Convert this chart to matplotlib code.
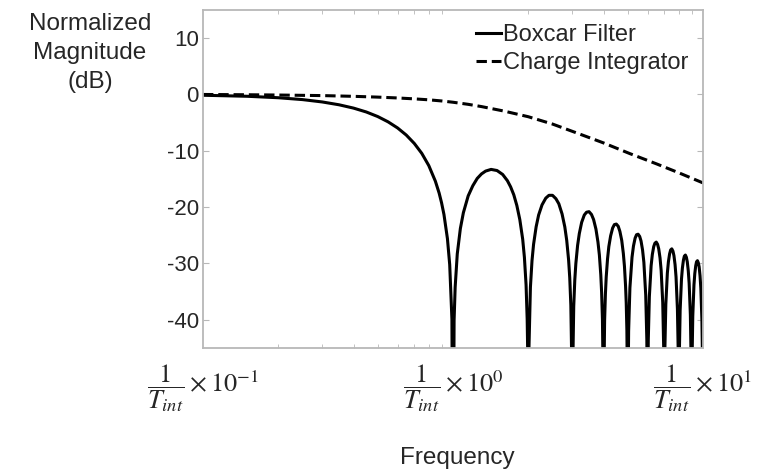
import matplotlib
matplotlib.use("Agg")
from matplotlib import pyplot as plt

plt.rcParams['font.family'] = ['Liberation Sans', 'DejaVu Sans']
plt.rcParams['mathtext.fontset'] = 'stix'

# frequency in units of 1/T_int, magnitude in dB
# one row per lobe, the last point of each row is the null below the axis
boxcar_freq = [
    0.1, 0.15, 0.2, 0.25, 0.3, 0.35, 0.4, 0.45, 0.5, 0.55, 0.6, 0.65, 0.7, 0.75,
    0.8, 0.85, 0.88, 0.9, 0.92, 0.95, 0.97, 0.99, 1.0,
    1.01, 1.02, 1.04, 1.07, 1.1, 1.15, 1.2, 1.25, 1.3, 1.35, 1.42, 1.5, 1.58,
    1.65, 1.7, 1.75, 1.8, 1.85, 1.9, 1.93, 1.96, 1.98, 1.99, 2.0,
    2.01, 2.04, 2.07, 2.1, 2.15, 2.2, 2.27, 2.35, 2.42, 2.5, 2.58, 2.65, 2.73, 2.8, 2.85, 2.9, 2.93, 2.96, 2.99, 3.0,
    3.01, 3.04, 3.07, 3.1, 3.15, 3.2, 3.27, 3.35, 3.42, 3.5, 3.58, 3.65, 3.73, 3.8, 3.85, 3.9, 3.93, 3.96, 3.99, 4.0,
    4.01, 4.04, 4.07, 4.1, 4.15, 4.2, 4.27, 4.35, 4.42, 4.5, 4.58, 4.65, 4.73, 4.8, 4.85, 4.9, 4.93, 4.96, 4.99, 5.0,
    5.01, 5.04, 5.1, 5.2, 5.27, 5.35, 5.42, 5.5, 5.58, 5.65, 5.73, 5.8, 5.9, 5.96, 5.99, 6.0,
    6.01, 6.04, 6.1, 6.2, 6.27, 6.35, 6.42, 6.5, 6.58, 6.65, 6.73, 6.8, 6.9, 6.96, 6.99, 7.0,
    7.01, 7.04, 7.1, 7.2, 7.27, 7.35, 7.42, 7.5, 7.58, 7.65, 7.73, 7.8, 7.9, 7.96, 7.99, 8.0,
    8.01, 8.04, 8.1, 8.2, 8.27, 8.35, 8.42, 8.5, 8.58, 8.65, 8.73, 8.8, 8.9, 8.96, 8.99, 9.0,
    9.01, 9.04, 9.1, 9.2, 9.27, 9.35, 9.42, 9.5, 9.58, 9.65, 9.73, 9.8, 9.9, 9.96, 9.99, 10.0,
]
boxcar_db = [
    -0.14, -0.32, -0.58, -0.91, -1.33, -1.83, -2.42, -3.11, -3.92, -4.86, -5.94, -7.2, -8.69, -10.45,
    -12.62, -15.39, -17.5, -19.23, -21.3, -25.6, -30.2, -39.9, -80,
    -40.1, -34.2, -28.3, -23.8, -21.0, -18.0, -16.2, -14.9, -14.1, -13.6, -13.3, -13.5, -14.2,
    -15.3, -16.4, -17.8, -19.7, -22.2, -25.7, -28.9, -33.8, -39.9, -46.0, -80,
    -46.1, -34.2, -29.5, -26.6, -23.5, -21.4, -19.6, -18.4, -17.9, -17.9, -18.5, -19.4, -21.2, -23.5, -25.9, -29.4, -32.5, -37.4, -49.5, -80,
    -49.6, -37.6, -32.9, -30.0, -26.8, -24.7, -22.7, -21.4, -20.9, -20.8, -21.3, -22.2, -23.9, -26.2, -28.5, -32.0, -35.1, -39.9, -52.0, -80,
    -52.1, -40.1, -35.4, -32.4, -29.2, -27.0, -25.1, -23.7, -23.1, -23.0, -23.4, -24.3, -25.9, -28.2, -30.5, -34.0, -37.0, -41.9, -54.0, -80,
    -54.0, -42.0, -34.3, -28.9, -26.9, -25.5, -24.9, -24.8, -25.2, -26.0, -27.6, -29.8, -35.6, -43.5, -55.6, -80,
    -55.6, -43.6, -35.9, -30.4, -28.4, -27.0, -26.4, -26.2, -26.6, -27.4, -29.0, -31.2, -36.9, -44.8, -56.9, -80,
    -56.9, -44.9, -37.2, -31.7, -29.7, -28.3, -27.6, -27.4, -27.8, -28.6, -30.2, -32.4, -38.1, -46.0, -58.1, -80,
    -58.1, -46.1, -38.3, -32.8, -30.8, -29.4, -28.7, -28.5, -28.9, -29.7, -31.3, -33.5, -39.1, -47.0, -59.1, -80,
    -59.1, -47.1, -39.3, -33.8, -31.8, -30.4, -29.7, -29.5, -29.9, -30.6, -32.2, -34.4, -40.1, -48.0, -60.0, -80,
]

integrator_freq = [0.1, 0.15, 0.2, 0.3, 0.4, 0.5, 0.6, 0.7, 0.8, 0.9, 1.0, 1.15, 1.3, 1.6,
                   2.0, 2.5, 3.2, 4.0, 5.1, 6.5, 8.0, 10.0]
integrator_db = [0.0, -0.05, -0.1, -0.2, -0.33, -0.47, -0.62, -0.78, -0.95, -1.15, -1.38, -1.75, -2.15, -2.95,
                 -3.95, -5.25, -7.0, -8.6, -10.5, -12.3, -13.9, -15.7]

y_ticks = [10, 0, -10, -20, -30, -40]
x_ticks = [0.1, 1, 10]
x_tick_labels = [
    r'$\dfrac{\mathit{1}}{T_{int}}\times10^{-1}$',
    r'$\dfrac{\mathit{1}}{T_{int}}\times10^{0}$',
    r'$\dfrac{\mathit{1}}{T_{int}}\times10^{1}$',
]

text_color = '#262626'
frame_color = '#b8b8b8'


def main():
    fig = plt.figure(figsize=(7.62, 4.74), dpi=100)
    ax = fig.add_axes([0.2664, 0.2658, 0.6562, 0.7132])

    ax.plot(boxcar_freq, boxcar_db, color='black', lw=2.2, label="Boxcar Filter")
    ax.plot(integrator_freq, integrator_db, color='black', lw=2.2,
            dashes=(3.4, 1.6), label="Charge Integrator")

    ax.set_xscale('log')
    ax.set_xlim(0.1, 10)
    ax.set_ylim(-45, 15)

    ax.set_yticks(y_ticks)
    ax.set_yticklabels([str(t) for t in y_ticks], fontsize=16, color=text_color)
    ax.set_xticks(x_ticks)
    ax.set_xticklabels(x_tick_labels, fontsize=19, color=text_color)

    for s in ax.spines.values():
        s.set_color(frame_color)
        s.set_linewidth(1.3)
    ax.tick_params(axis='both', which='both', direction='in', color=frame_color,
                   top=True, right=True)
    ax.tick_params(axis='y', which='major', length=4, pad=3)
    ax.tick_params(axis='x', which='major', length=0, pad=10)
    ax.tick_params(axis='x', which='minor', length=3, labelbottom=False)

    ax.set_ylabel("Normalized\nMagnitude\n(dB)", rotation=0, fontsize=17.5,
                  color=text_color, ha='center', va='center', linespacing=1.4)
    ax.yaxis.set_label_coords(-0.226, 0.873)
    ax.set_xlabel("Frequency", fontsize=17.5, color=text_color, va='center')
    ax.xaxis.set_label_coords(0.508, -0.325)

    leg = ax.legend(loc='upper right', frameon=False, fontsize=17,
                    handlelength=1.05, handletextpad=0.12, labelspacing=0.25,
                    borderaxespad=0.25, borderpad=0.35)
    for t in leg.get_texts():
        t.set_color(text_color)

    fig.savefig('out.png', dpi=100)


if __name__ == '__main__':
    main()
